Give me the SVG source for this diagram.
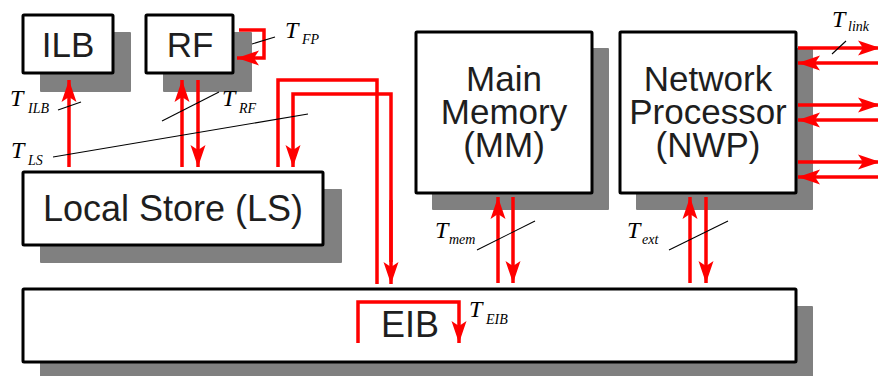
<svg xmlns="http://www.w3.org/2000/svg" width="878" height="376" viewBox="0 0 878 376">
<style>
.sh{fill:#808080}
.bx{fill:#fff;stroke:#000;stroke-width:3}
.lbl{font-family:"Liberation Sans",Arial,sans-serif;font-size:35px;fill:#1e1e1e;text-anchor:middle}
.rl{fill:none;stroke:#ff0000;stroke-width:3.5}
.tk{stroke:#000;stroke-width:1.1;fill:none}
.tt{font-family:"Liberation Serif","Times New Roman",serif;font-style:italic;font-size:24px;fill:#000}
.ts{font-family:"Liberation Serif","Times New Roman",serif;font-style:italic;font-size:14px;fill:#000}
</style>
<defs>
<marker id="ah" viewBox="-22 -8 24 16" refX="0" refY="0" markerWidth="24" markerHeight="16" markerUnits="userSpaceOnUse" orient="auto">
<path d="M0,0 L-22,-7.5 L-17,0 L-22,7.5 Z" fill="#ff0000"/>
</marker>
</defs>
<rect width="878" height="376" fill="#fff"/>
<g id="ILB">
<rect class="sh" x="40" y="32" width="91" height="60" rx="1"/>
<rect class="bx" x="23" y="15" width="90" height="58" rx="1"/>
<text class="lbl" x="68" y="57">ILB</text>
</g>
<g id="RF">
<rect class="sh" x="163" y="32" width="89" height="60" rx="1"/>
<rect class="bx" x="146" y="15" width="87" height="58" rx="1"/>
<text class="lbl" x="190" y="57">RF</text>
</g>
<g id="LS">
<rect class="sh" x="40" y="189" width="302" height="74" rx="1"/>
<rect class="bx" x="23" y="172" width="300" height="73" rx="1"/>
<text class="lbl" x="173" y="221" style="font-size:36px">Local Store (LS)</text>
</g>
<g id="MM">
<rect class="sh" x="432" y="48" width="177" height="162" rx="1"/>
<rect class="bx" x="416" y="32" width="176" height="161" rx="1"/>
<text class="lbl" x="504" y="91">Main</text>
<text class="lbl" x="504" y="124">Memory</text>
<text class="lbl" x="504" y="157">(MM)</text>
</g>
<g id="NWP">
<rect class="sh" x="636" y="48" width="177" height="162" rx="1"/>
<rect class="bx" x="620" y="32" width="176" height="161" rx="1"/>
<text class="lbl" x="708" y="91">Network</text>
<text class="lbl" x="708" y="124">Processor</text>
<text class="lbl" x="708" y="157">(NWP)</text>
</g>
<g id="EIB">
<rect class="sh" x="40" y="306" width="773" height="80" rx="1"/>
<rect class="bx" x="23" y="289" width="773" height="73" rx="1"/>
<text class="lbl" x="410" y="337" style="font-size:36px">EIB</text>
</g>
<g id="connectors">
<path class="rl" d="M69,167 V80" marker-end="url(#ah)"/>
<path class="rl" d="M182,167 V80" marker-end="url(#ah)"/>
<path class="rl" d="M198,80 V167" marker-end="url(#ah)"/>
<path class="rl" d="M239,30 H264 V58 H237" marker-end="url(#ah)"/>
<path class="rl" d="M278,167 V80 H377 V284"/>
<path class="rl" d="M391,262 V94 H293 V167" marker-end="url(#ah)"/>
<path class="rl" d="M391,200 V284" marker-end="url(#ah)"/>
<path class="rl" d="M358,343 V302 H459 V343" marker-end="url(#ah)"/>
<path class="rl" d="M498,283 V197" marker-end="url(#ah)"/>
<path class="rl" d="M513,197 V283" marker-end="url(#ah)"/>
<path class="rl" d="M690,283 V197" marker-end="url(#ah)"/>
<path class="rl" d="M706,197 V283" marker-end="url(#ah)"/>
<path class="rl" d="M798,48 H880" marker-end="url(#ah)"/>
<path class="rl" d="M880,63 H798" marker-end="url(#ah)"/>
<path class="rl" d="M798,105 H880" marker-end="url(#ah)"/>
<path class="rl" d="M880,120 H798" marker-end="url(#ah)"/>
<path class="rl" d="M798,162 H880" marker-end="url(#ah)"/>
<path class="rl" d="M880,177 H798" marker-end="url(#ah)"/>
</g>
<g id="labels">
<line class="tk" x1="58" y1="110" x2="81" y2="102"/>
<text class="tt" x="10" y="106">T</text><text class="ts" x="28" y="113">ILB</text>
<line class="tk" x1="162" y1="121" x2="219" y2="92"/>
<text class="tt" x="222" y="106">T</text><text class="ts" x="239" y="113">RF</text>
<line class="tk" x1="252" y1="44" x2="275" y2="37"/>
<text class="tt" x="285" y="38">T</text><text class="ts" x="302" y="44">FP</text>
<line class="tk" x1="53" y1="157" x2="308" y2="114"/>
<text class="tt" x="11" y="158">T</text><text class="ts" x="28" y="165">LS</text>
<line class="tk" x1="477" y1="250" x2="535" y2="221"/>
<text class="tt" x="435" y="238">T</text><text class="ts" x="449" y="244">mem</text>
<line class="tk" x1="669" y1="250" x2="728" y2="221"/>
<text class="tt" x="627" y="238">T</text><text class="ts" x="642" y="244">ext</text>
<text class="tt" x="469" y="317">T</text><text class="ts" x="486" y="324">EIB</text>
<line class="tk" x1="832" y1="54" x2="846" y2="41"/>
<text class="tt" x="832" y="27">T</text><text class="ts" x="848" y="31">link</text>
</g>
</svg>
